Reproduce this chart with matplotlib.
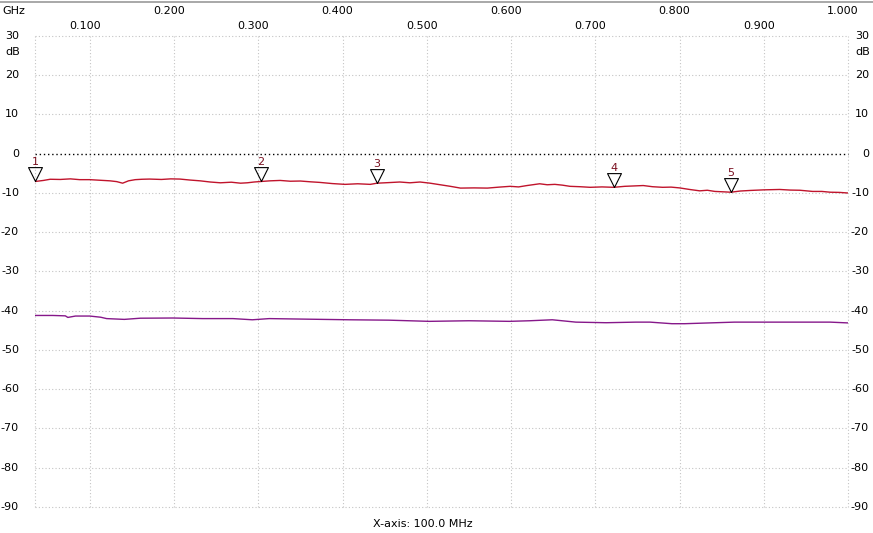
import matplotlib
matplotlib.use("Agg")
import matplotlib.pyplot as plt
import matplotlib.transforms as mtransforms
from matplotlib.lines import Line2D

# ---- data ----
s21_freq = [0.035, 0.045, 0.053, 0.065, 0.077, 0.088, 0.100, 0.112, 0.124, 0.132,
            0.139, 0.146, 0.154, 0.162, 0.171, 0.185, 0.196, 0.207, 0.219, 0.231,
            0.243, 0.255, 0.268, 0.279, 0.287, 0.295, 0.303, 0.314, 0.326, 0.338,
            0.350, 0.362, 0.373, 0.388, 0.403, 0.418, 0.433, 0.441, 0.455, 0.468,
            0.480, 0.492, 0.504, 0.516, 0.528, 0.540, 0.556, 0.572, 0.586, 0.599,
            0.609, 0.619, 0.634, 0.643, 0.652, 0.661, 0.670, 0.682, 0.694, 0.708,
            0.722, 0.735, 0.746, 0.757, 0.768, 0.780, 0.790, 0.800, 0.812, 0.824,
            0.833, 0.842, 0.852, 0.861, 0.872, 0.884, 0.900, 0.919, 0.931, 0.943,
            0.958, 0.969, 0.979, 0.990, 1.000]
s21_db = [-7.07, -6.8, -6.5, -6.55, -6.4, -6.6, -6.6, -6.75, -6.9, -7.1,
          -7.5, -6.9, -6.6, -6.5, -6.45, -6.55, -6.4, -6.45, -6.7, -6.9,
          -7.2, -7.4, -7.25, -7.5, -7.4, -7.2, -7.07, -6.9, -6.8, -7.0,
          -6.95, -7.15, -7.3, -7.6, -7.8, -7.65, -7.8, -7.5, -7.35, -7.2,
          -7.4, -7.2, -7.5, -7.9, -8.3, -8.75, -8.7, -8.75, -8.5, -8.3,
          -8.45, -8.1, -7.65, -7.9, -7.8, -8.0, -8.3, -8.4, -8.55, -8.45,
          -8.55, -8.3, -8.2, -8.1, -8.4, -8.55, -8.5, -8.7, -9.1, -9.45,
          -9.3, -9.6, -9.7, -9.8, -9.5, -9.35, -9.2, -9.1, -9.25, -9.3,
          -9.6, -9.6, -9.8, -9.85, -10.0]

s11_freq = [0.035, 0.056, 0.071, 0.074, 0.083, 0.100, 0.113, 0.120, 0.141, 0.160,
            0.199, 0.234, 0.270, 0.293, 0.313, 0.360, 0.408, 0.455, 0.503, 0.550,
            0.598, 0.622, 0.649, 0.677, 0.713, 0.748, 0.765, 0.791, 0.806, 0.865,
            0.939, 0.979, 1.000]
s11_db = [-41.2, -41.2, -41.3, -41.7, -41.35, -41.35, -41.65, -42.0, -42.2, -41.9,
          -41.85, -42.0, -42.0, -42.3, -42.0, -42.15, -42.3, -42.4, -42.7, -42.55,
          -42.7, -42.55, -42.3, -42.9, -43.05, -42.9, -42.9, -43.3, -43.3, -42.9,
          -42.9, -42.9, -43.1]

marker_ids = ["1", "2", "3", "4", "5"]
marker_freq = [0.035, 0.303, 0.441, 0.722, 0.861]
marker_db = [-7.07, -7.07, -7.5, -8.55, -9.8]

x_ticks = [0.1, 0.2, 0.3, 0.4, 0.5, 0.6, 0.7, 0.8, 0.9, 1.0]
x_tick_labels = ["0.100", "0.200", "0.300", "0.400", "0.500",
                 "0.600", "0.700", "0.800", "0.900", "1.000"]
y_ticks = [30, 20, 10, 0, -10, -20, -30, -40, -50, -60, -70, -80, -90]

# ---- figure ----
W, H = 873, 533
fig = plt.figure(figsize=(W / 100, H / 100), dpi=100)
fig.patch.set_facecolor("white")
L, R, T, B = 35, 848, 36, 507
ax = fig.add_axes([L / W, 1 - B / H, (R - L) / W, (B - T) / H])
ax.set_xlim(0.035, 1.0)
ax.set_ylim(-90, 30)
for s in ax.spines.values():
    s.set_visible(False)
ax.set_xticks([])
ax.set_yticks([])

grid_col = "#c4c4c4"
for y in y_ticks:
    if y == 0:
        ax.axhline(y, color="black", lw=1.0, ls=(0, (1, 2)), clip_on=False, zorder=1)
    else:
        ax.axhline(y, color=grid_col, lw=0.8, ls=(0, (1, 2)), clip_on=False, zorder=1)
for x in [0.035] + x_ticks:
    ax.axvline(x, color=grid_col, lw=0.8, ls=(0, (1, 2)), clip_on=False, zorder=1)

# traces
ax.plot(s21_freq, s21_db, color="#c0142c", lw=1.0, zorder=3)
ax.plot(s11_freq, s11_db, color="#86188a", lw=1.0, zorder=3)

# markers: downward triangle with tip on the point
tri = [(0, 0), (-0.5, 1), (0.5, 1), (0, 0)]
ax.plot(marker_freq, marker_db, ls="none", marker=tri, markersize=20,
        markerfacecolor="none", markeredgecolor="black", markeredgewidth=0.8,
        zorder=4, clip_on=False)
for mid, f, d in zip(marker_ids, marker_freq, marker_db):
    ax.annotate(mid, (f, d), xytext=(0, 10.5), textcoords="offset points",
                ha="center", va="bottom", fontsize=8, color="#7a1020",
                family="DejaVu Sans", annotation_clip=False)

font = dict(family="DejaVu Sans", fontsize=8, color="black")

# top x labels, alternating rows
bx = mtransforms.blended_transform_factory(ax.transData, fig.transFigure)
for i, (x, lab) in enumerate(zip(x_ticks, x_tick_labels)):
    ypix = 26 if i % 2 == 0 else 11
    ax.text(x - 0.006, 1 - ypix / H, lab, transform=bx, ha="center", va="center", **font)
fig.text(2 / W, 1 - 11 / H, "GHz", ha="left", va="center", **font)

# y labels, both sides right aligned
by = mtransforms.blended_transform_factory(fig.transFigure, ax.transData)
for y in y_ticks:
    ax.text(19 / W, y, str(y), transform=by, ha="right", va="center", **font)
    ax.text(869 / W, y, str(y), transform=by, ha="right", va="center", **font)
fig.text(5 / W, 1 - 52 / H, "dB", ha="left", va="center", **font)
fig.text(855 / W, 1 - 52 / H, "dB", ha="left", va="center", **font)

fig.text(373 / W, 1 - 524 / H, "X-axis: 100.0 MHz", ha="left", va="center", **font)

# top window border line
fig.add_artist(Line2D([0, 1], [1 - 1.5 / H, 1 - 1.5 / H], transform=fig.transFigure,
                      color="#9a9a9a", lw=1.2))

fig.savefig("out.png", dpi=100)
